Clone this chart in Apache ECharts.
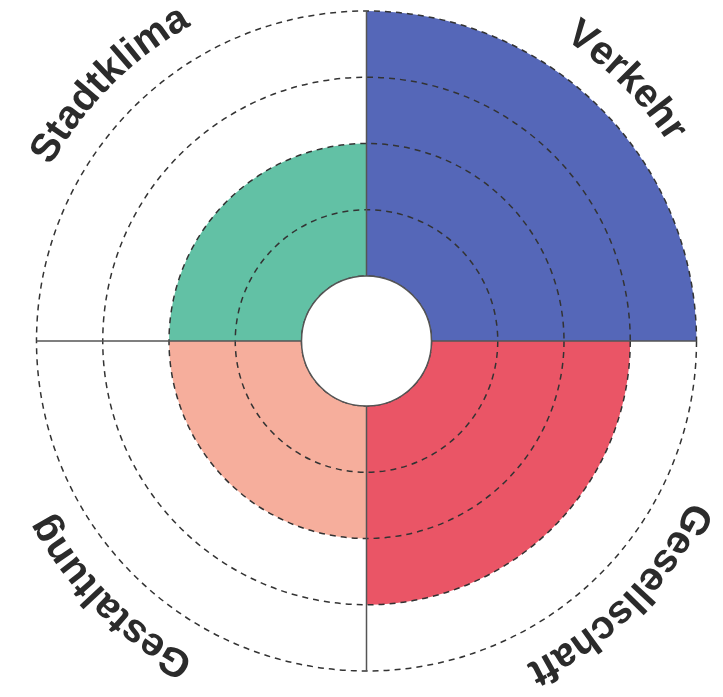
<!DOCTYPE html>
<html><head><meta charset="utf-8">
<script src="https://cdn.jsdelivr.net/npm/echarts@6/dist/echarts.min.js"></script>
<style>html,body{margin:0;padding:0;background:#fff}#c{width:723px;height:697px}</style>
</head><body><div id="c"></div>
<script>
const categories = ['Verkehr', 'Gesellschaft', 'Gestaltung', 'Stadtklima'];
const values = [4, 3, 2, 2];
const colors = ['#5567b8', '#ea5566', '#f6ae9c', '#62c1a5'];
const radiusTicks = [0, 1, 2, 3, 4];

const FONT = 'bold 40px "Liberation Sans", Arial, sans-serif';
const TRACK = 0.5;
const TEXT_OFFSET = 42;
const mctx = document.createElement('canvas').getContext('2d');
mctx.font = FONT;

const chart = echarts.init(document.getElementById('c'));
chart.setOption({
  animation: false,
  polar: { center: [366.5, 341], radius: [65, 330] },
  angleAxis: {
    type: 'category', data: categories, startAngle: 90, clockwise: true, z: 10,
    axisLine: { show: false }, axisTick: { show: false }, axisLabel: { show: false },
    splitLine: { show: true, lineStyle: { color: '#555', width: 1.5, type: 'solid' } }
  },
  radiusAxis: {
    type: 'value', min: radiusTicks[0], max: radiusTicks[radiusTicks.length - 1], interval: 1, z: 10,
    axisLine: { show: false }, axisTick: { show: false }, axisLabel: { show: false },
    splitLine: { show: true, lineStyle: { color: '#333', width: 1.5, type: [6, 5] } }
  },
  series: [
    {
      type: 'bar', coordinateSystem: 'polar', z: 1, barCategoryGap: '0%',
      data: values.map((v, i) => ({ value: v, itemStyle: { color: colors[i] } }))
    },
    {
      type: 'custom', coordinateSystem: 'polar', z: 20, silent: true,
      data: [[0, categories[0]]],
      renderItem: function (params, api) {
        const cs = params.coordSys;
        return { type: 'circle', shape: { cx: cs.cx, cy: cs.cy, r: cs.r0 },
          style: { fill: '#fff', stroke: '#555', lineWidth: 1.5 } };
      }
    },
    {
      type: 'custom', coordinateSystem: 'polar', z: 20, silent: true,
      data: categories.map(c => [0, c]),
      renderItem: function (params, api) {
        const cs = params.coordSys;
        const label = categories[params.dataIndex];
        const p = api.coord([api.value(0), api.value(1)]);
        const theta = Math.atan2(-(p[1] - cs.cy), p[0] - cs.cx);
        const R = cs.r + TEXT_OFFSET;
        const chars = label.split('');
        const widths = chars.map(ch => mctx.measureText(ch).width + TRACK);
        const total = widths.reduce((a, b) => a + b, 0);
        let s = 0;
        const children = chars.map((ch, k) => {
          const a = theta + (total / 2) / R - (s + widths[k] / 2) / R;
          s += widths[k];
          return {
            type: 'text', x: cs.cx + R * Math.cos(a), y: cs.cy - R * Math.sin(a),
            rotation: a - Math.PI / 2,
            style: { text: ch, font: FONT, fill: '#2b2b2b', align: 'center', verticalAlign: 'middle' }
          };
        });
        return { type: 'group', children: children };
      }
    }
  ]
});
</script></body></html>
